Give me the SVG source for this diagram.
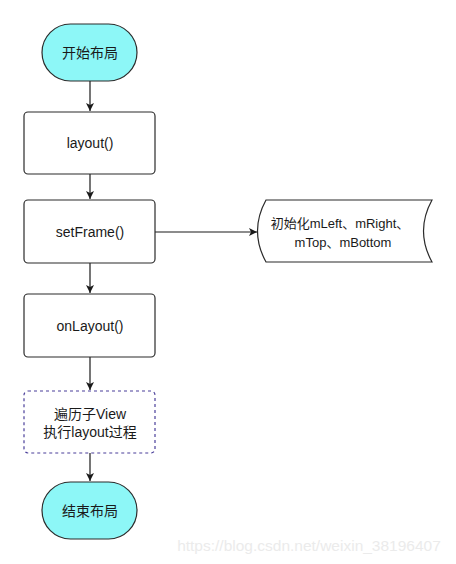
<svg xmlns="http://www.w3.org/2000/svg" width="456" height="564" viewBox="0 0 456 564">
<style>
.t{font-family:"Liberation Sans","Noto Sans CJK SC",sans-serif;font-size:14px;fill:#1a1a1a;text-anchor:middle;dominant-baseline:central}
.s{font-size:13px}
.term{fill:#8df7f7;stroke:#2b2b2b;stroke-width:1.2}
.box{fill:#ffffff;stroke:#2b2b2b;stroke-width:1.2}
.dash{fill:#ffffff;stroke:#4a3f9a;stroke-width:1.2;stroke-dasharray:3 3}
.c{fill:none;stroke:#1a1a1a;stroke-width:1.2}
</style>
<defs>
<marker id="ah" markerWidth="10" markerHeight="10" refX="9" refY="5" orient="auto" markerUnits="userSpaceOnUse">
<path d="M1,1 L9,5 L1,9 L3,5 Z" fill="#1a1a1a"/>
</marker>
</defs>
<rect width="456" height="564" fill="#ffffff"/>
<g id="connectors">
<path class="c" d="M90,81 V111" marker-end="url(#ah)"/>
<path class="c" d="M90,174 V199" marker-end="url(#ah)"/>
<path class="c" d="M155,232 H257" marker-end="url(#ah)"/>
<path class="c" d="M90,263 V293" marker-end="url(#ah)"/>
<path class="c" d="M90,357 V390" marker-end="url(#ah)"/>
<path class="c" d="M90,453 V481" marker-end="url(#ah)"/>
</g>
<g id="start">
<rect class="term" x="42" y="24" width="95" height="57" rx="28.5" ry="28.5"/>
<text class="t" x="90" y="52.5">开始布局</text>
</g>
<g id="layout">
<rect class="box" x="24" y="112" width="131" height="62" rx="4"/>
<text class="t" x="90" y="143">layout()</text>
</g>
<g id="setFrame">
<rect class="box" x="24" y="200" width="131" height="63" rx="4"/>
<text class="t" x="90" y="231.5">setFrame()</text>
</g>
<g id="init">
<path class="box" d="M266,200 H432 Q415,231 432,262 H266 Q249,231 266,200 Z"/>
<text class="t s" x="340" y="223">初始化mLeft、mRight、</text>
<text class="t s" x="343" y="242">mTop、mBottom</text>
</g>
<g id="onLayout">
<rect class="box" x="24" y="294" width="131" height="63" rx="4"/>
<text class="t" x="90" y="325.5">onLayout()</text>
</g>
<g id="traverse">
<rect class="dash" x="24" y="391" width="131" height="62" rx="4"/>
<text class="t" x="90" y="414">遍历子View</text>
<text class="t" x="90" y="432">执行layout过程</text>
</g>
<g id="end">
<rect class="term" x="42" y="482" width="95" height="57" rx="28.5" ry="28.5"/>
<text class="t" x="90" y="510.5">结束布局</text>
</g>
<text x="309" y="551" style="font-family:'Liberation Sans',sans-serif;font-size:15.5px;fill:#ebebeb;text-anchor:middle">https://blog.csdn.net/weixin_38196407</text>
</svg>
